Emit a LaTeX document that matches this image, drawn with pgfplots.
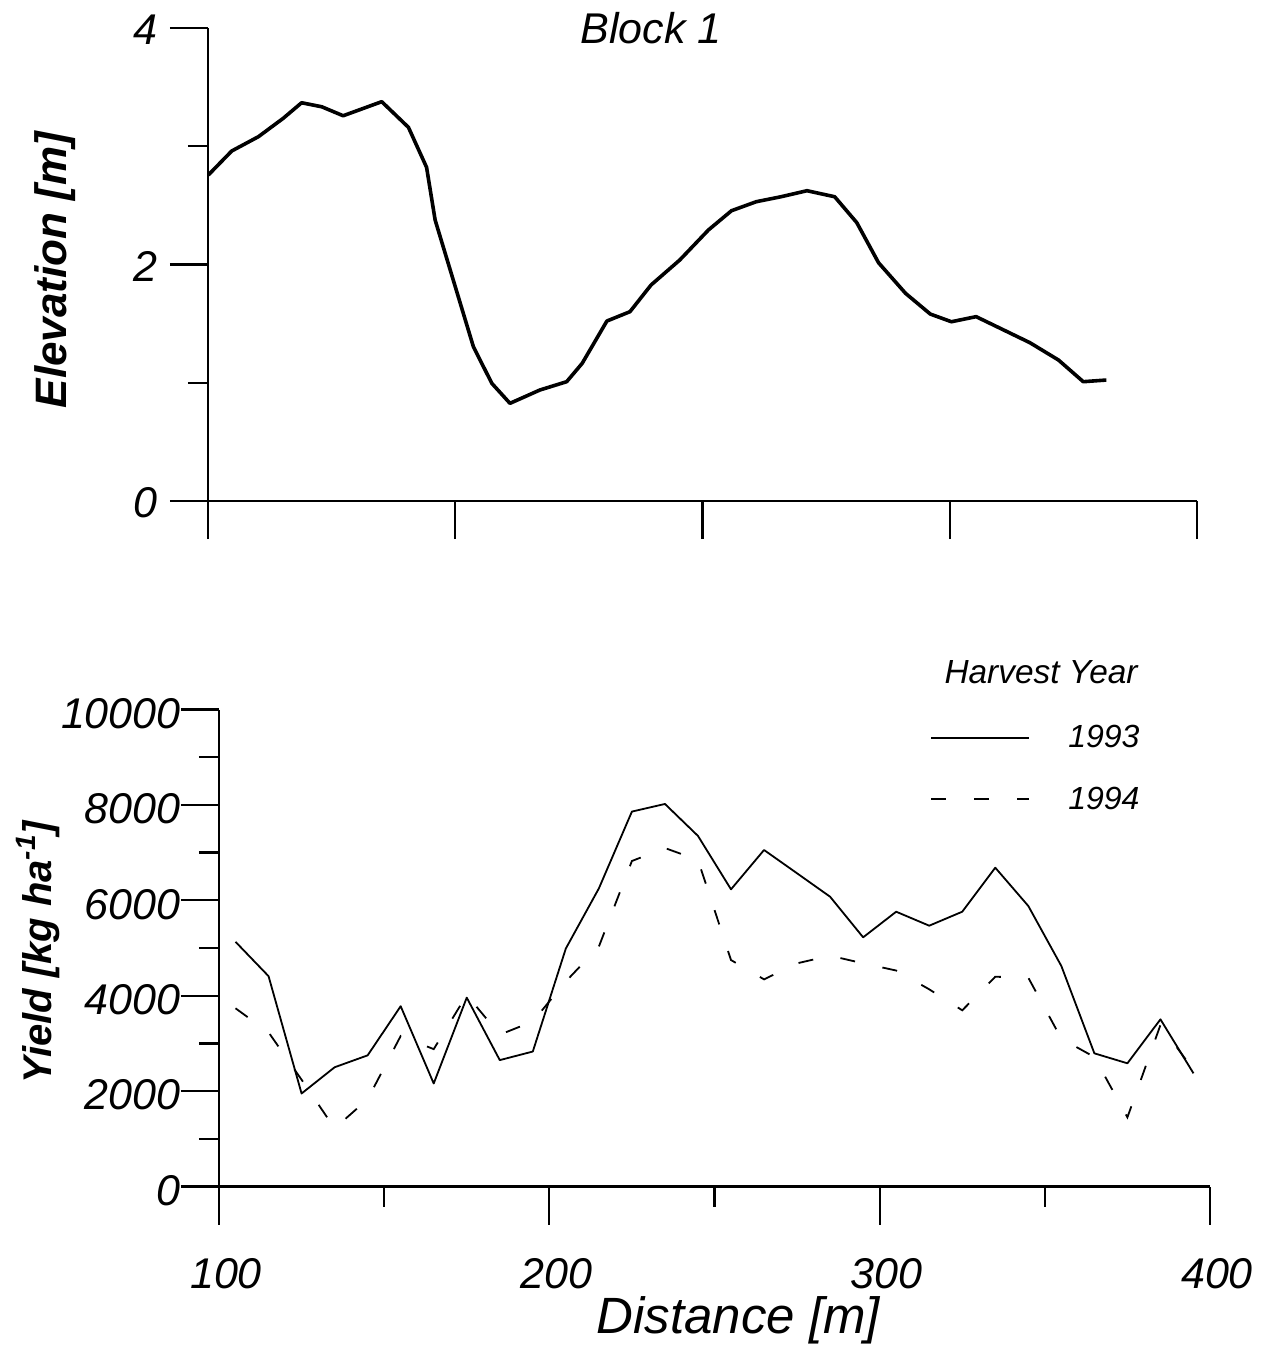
\documentclass[border=0pt]{standalone}
\usepackage{pgfplots}
\usepackage{pgfplotstable}
\pgfplotsset{compat=1.18}
\usepackage{fontspec}
\setmainfont{Liberation Sans}

\pgfplotstableread{
x e
100.1 2.757
107.2 2.960
115.3 3.081
122.8 3.236
128.4 3.368
134.5 3.334
141.0 3.258
152.7 3.377
160.8 3.160
166.3 2.822
168.9 2.376
180.5 1.305
186.1 0.995
191.6 0.826
200.7 0.939
208.8 1.009
213.5 1.164
221.0 1.522
228.0 1.601
234.4 1.827
243.1 2.038
251.8 2.292
258.8 2.455
266.3 2.531
273.8 2.573
281.7 2.624
290.1 2.573
296.8 2.354
303.4 2.015
311.6 1.756
319.1 1.581
325.5 1.516
333.0 1.559
349.3 1.339
358.0 1.192
365.5 1.009
372.5 1.023
}\elev

\pgfplotstableread{
x y93 y94
105 5130 3736
115 4410 3233
125 1950 2239
135 2500 1220
145 2750 1830
155 3780 3155
165 2160 2880
175 3960 4015
185 2650 3183
195 2830 3460
205 4990 4300
215 6250 5030
225 7860 6824
235 8020 7096
245 7350 6845
255 6230 4748
265 7055 4343
275 6566 4679
285 6075 4839
295 5224 4679
305 5761 4528
315 5468 4134
325 5761 3694
335 6684 4398
345 5881 4377
355 4623 3099
365 2792 2715
375 2583 1450
385 3505 3386
395 2373 2442
}\yield

\newcommand{\tickfont}{\itshape\fontsize{21.5}{21.5}\selectfont}

\pgfplotsset{
  common/.style={
    scale only axis,
    axis lines=left,
    axis line style={-, line width=1.15pt, black},
    tick style={line width=1.15pt, black},
    tick align=outside,
    major tick length=19pt,
    minor tick length=10pt,
    clip=false,
    scaled ticks=false,
    /pgf/number format/assume math mode=true,
    /pgf/number format/set thousands separator={},
    ticklabel style={font=\tickfont},
  }
}

\begin{document}
\begin{tikzpicture}
\useasboundingbox (0,0) rectangle (632.5pt,-673pt);

% top panel
\begin{axis}[common,
  at={(104pt,-250.5pt)}, anchor=south west,
  width=494.5pt, height=236.5pt,
  xmin=100, xmax=400, ymin=0, ymax=4,
  xtick={100,175,250,325,400}, xticklabels={},
  ytick={0,2,4}, minor ytick={1,3},
  yticklabel style={anchor=east, inner sep=0pt, xshift=-6pt, yshift=-1pt},
  ylabel={\bfseries\itshape\fontsize{22}{22}\selectfont Elevation [m]},
  ylabel style={at={(axis description cs:-0.1547,0.488)}, anchor=center, rotate=0},
]
\addplot[black, line width=1.8pt, line join=round] table[x=x, y=e] {\elev};
\node[font=\itshape\fontsize{21.5}{21.5}\selectfont] at (axis description cs:0.448,1.0) {Block 1};
\end{axis}

% bottom panel
\begin{axis}[common,
  at={(109.5pt,-593.25pt)}, anchor=south west,
  width=495.5pt, height=238.5pt,
  xmin=100, xmax=400, ymin=0, ymax=10000,
  xtick={100,200,300,400}, minor xtick={150,250,350},
  ytick={0,2000,4000,6000,8000,10000}, minor ytick={1000,3000,5000,7000,9000},
  yticklabel style={anchor=east, inner sep=0pt, xshift=0pt, yshift=-2pt},
  xticklabel style={anchor=north, inner sep=0pt, yshift=-17pt, xshift=3.5pt},
  ylabel={\bfseries\itshape\fontsize{20}{20}\selectfont Yield [kg ha\textsuperscript{-1}]},
  ylabel style={at={(axis description cs:-0.1826,0.4916)}, anchor=center, rotate=0},
  xlabel={\itshape\fontsize{25.5}{25.5}\selectfont Distance [m]},
  xlabel style={at={(axis description cs:0.524,-0.28)}, anchor=center},
  legend style={draw=none, fill=none, at={(axis description cs:0.7115,0.976)}, anchor=north west,
    font=\itshape\fontsize{16}{16}\selectfont, row sep=18pt, column sep=0pt,
    nodes={inner sep=0pt}, /tikz/every odd column/.append style={column sep=19pt}},
  legend image code/.code={\draw[#1] (0pt,0pt) -- (49pt,0pt);},
  legend cell align=left,
]
\addplot[black, line width=0.9pt, line join=round] table[x=x, y=y93] {\yield};
\addlegendentry{1993}
\addplot[black, line width=0.9pt, dash pattern=on 7.5pt off 14pt] table[x=x, y=y94] {\yield};
\addlegendentry{1994}
\node[font=\itshape\fontsize{16.7}{16.7}\selectfont] at (axis description cs:0.8295,1.0786) {Harvest Year};
\end{axis}
\end{tikzpicture}
\end{document}
